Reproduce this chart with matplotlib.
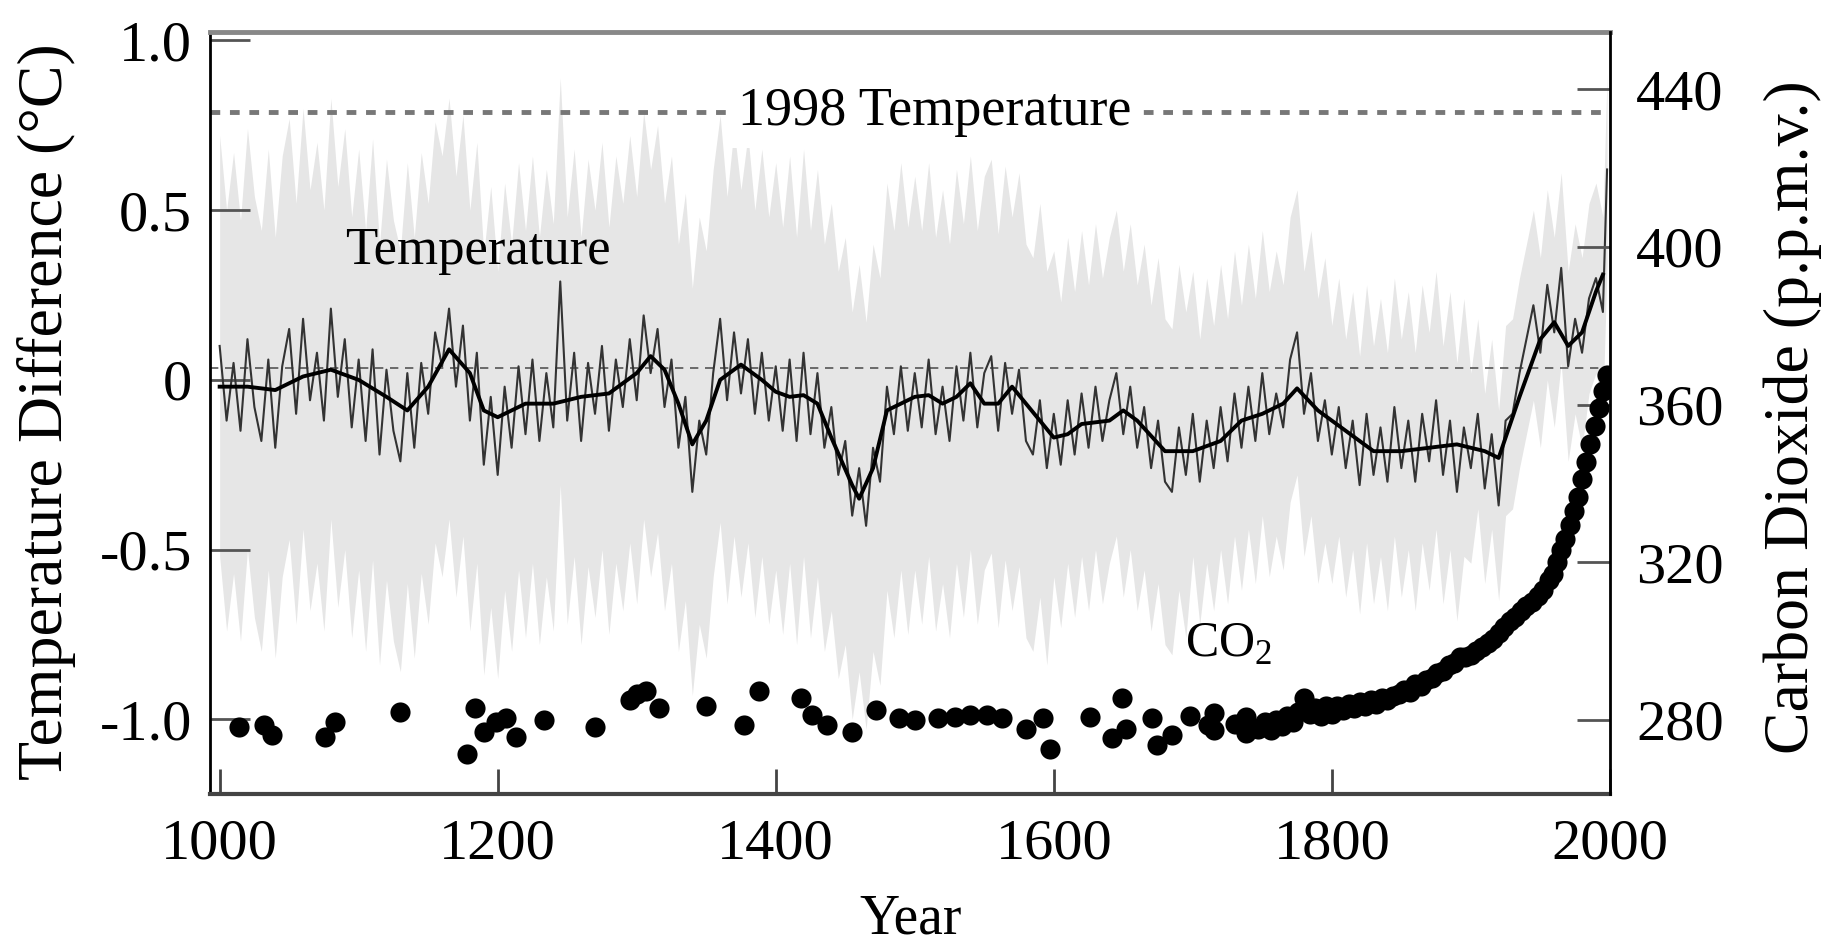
import numpy as np
import matplotlib.pyplot as plt

plt.rcParams['font.family'] = ['Liberation Serif', 'DejaVu Serif']
plt.rcParams['mathtext.fontset'] = 'custom'
plt.rcParams['mathtext.rm'] = 'Liberation Serif'

# annual reconstruction, read every 5 years (last point 1998)
temp_annual = [
    0.10, -0.12, 0.05, -0.15, 0.12, -0.08, -0.18, 0.06, -0.20, 0.04,
    0.15, -0.10, 0.18, -0.06, 0.08, -0.12, 0.21, -0.05, 0.12, -0.14,
    0.06, -0.18, 0.09, -0.22, 0.03, -0.15, -0.24, 0.02, -0.20, 0.05,
    -0.10, 0.14, 0.04, 0.21, -0.02, 0.16, -0.12, 0.08, -0.25, -0.05,
    -0.28, -0.02, -0.20, 0.04, -0.16, 0.06, -0.18, 0.02, -0.14, 0.29,
    -0.12, 0.08, -0.18, 0.05, -0.10, 0.10, -0.15, 0.06, -0.08, 0.12,
    -0.06, 0.19, 0.02, 0.15, -0.08, 0.06, -0.20, -0.05, -0.33, -0.12,
    -0.22, 0.02, 0.18, -0.06, 0.14, -0.04, 0.12, -0.10, 0.08, -0.12,
    0.04, -0.15, 0.06, -0.18, 0.08, -0.16, 0.02, -0.20, -0.08, -0.28,
    -0.18, -0.40, -0.26, -0.43, -0.20, -0.30, -0.02, -0.16, 0.04, -0.15,
    0.02, -0.14, 0.06, -0.16, -0.02, -0.18, 0.04, -0.12, 0.08, -0.14,
    0.02, 0.07, -0.15, 0.05, -0.10, 0.03, -0.18, -0.22, -0.06, -0.26,
    -0.10, -0.25, -0.06, -0.22, -0.04, -0.20, -0.02, -0.18, -0.06, 0.02,
    -0.16, -0.02, -0.20, -0.08, -0.26, -0.12, -0.30, -0.33, -0.14, -0.28,
    -0.10, -0.30, -0.12, -0.26, -0.08, -0.24, -0.04, -0.20, -0.02, -0.18,
    0.02, -0.16, -0.04, -0.14, 0.06, 0.14, -0.10, 0.02, -0.18, -0.06,
    -0.22, -0.08, -0.26, -0.12, -0.31, -0.10, -0.28, -0.14, -0.30, -0.08,
    -0.26, -0.12, -0.30, -0.10, -0.24, -0.06, -0.28, -0.12, -0.33, -0.14,
    -0.26, -0.10, -0.32, -0.16, -0.37, -0.12, -0.10, 0.02, 0.12, 0.22,
    0.08, 0.28, 0.14, 0.33, 0.04, 0.18, 0.08, 0.24, 0.30, 0.20,
    0.62,
]
annual_years = np.append(np.arange(1000, 2000, 5), 1998)

# smoothed curve
smooth_years = [1000, 1020, 1040, 1060, 1080, 1100, 1120, 1135, 1150, 1165,
                1180, 1190, 1200, 1220, 1240, 1260, 1280, 1300, 1310, 1320,
                1330, 1340, 1350, 1360, 1375, 1390, 1400, 1410, 1420, 1430,
                1440, 1455, 1460, 1470, 1480, 1490, 1500, 1510, 1520, 1530,
                1540, 1550, 1560, 1570, 1580, 1590, 1600, 1610, 1620, 1640,
                1650, 1660, 1680, 1700, 1720, 1735, 1750, 1765, 1775, 1790,
                1810, 1830, 1850, 1870, 1890, 1910, 1920, 1935, 1950, 1960,
                1970, 1980, 1990, 1995]
smooth_temp = [-0.02, -0.02, -0.03, 0.01, 0.03, 0.00, -0.05, -0.09, -0.02, 0.09,
               0.02, -0.09, -0.11, -0.07, -0.07, -0.05, -0.04, 0.02, 0.07, 0.03,
               -0.07, -0.19, -0.12, 0.00, 0.045, 0.00, -0.035, -0.05, -0.045, -0.07,
               -0.17, -0.31, -0.35, -0.26, -0.09, -0.07, -0.05, -0.045, -0.07, -0.05,
               -0.01, -0.07, -0.07, -0.02, -0.07, -0.12, -0.17, -0.16, -0.13, -0.12,
               -0.09, -0.12, -0.21, -0.21, -0.18, -0.12, -0.10, -0.07, -0.025, -0.09,
               -0.15, -0.21, -0.21, -0.20, -0.19, -0.21, -0.23, -0.05, 0.12, 0.17,
               0.10, 0.14, 0.26, 0.31]

# uncertainty half-width per period
band_start = [1000, 1100, 1200, 1300, 1400, 1500, 1600, 1700, 1800, 1900]
band_halfwidth = [0.62, 0.62, 0.60, 0.60, 0.60, 0.58, 0.48, 0.42, 0.38, 0.28]

# CO2 (ppmv)
co2_years = [1014, 1032, 1038, 1076, 1083, 1130, 1178, 1184, 1190, 1199,
             1206, 1213, 1233, 1270, 1295, 1300, 1307, 1316, 1350, 1377,
             1388, 1418, 1426, 1437, 1455, 1472, 1489, 1500, 1517, 1529,
             1540, 1552, 1563, 1580, 1592, 1597, 1626, 1642, 1649, 1652,
             1671, 1674, 1685, 1698, 1711, 1715, 1715, 1730, 1738, 1738,
             1747, 1752, 1756, 1760, 1764, 1768, 1772, 1776, 1780, 1784,
             1788, 1792, 1796, 1800, 1804, 1808, 1812, 1816, 1820, 1824,
             1828, 1832, 1836, 1840, 1844, 1848, 1852, 1856, 1860, 1864,
             1868, 1872, 1876, 1880, 1884, 1888, 1892, 1896, 1900, 1904,
             1908, 1912, 1916, 1920, 1924, 1928, 1932, 1936, 1940, 1944,
             1948, 1952, 1956, 1959, 1962, 1965, 1968, 1971, 1974, 1977,
             1980, 1983, 1986, 1989, 1992, 1995, 1998]
co2_ppm = [278.2, 278.7, 276.2, 275.7, 279.5, 282.0, 271.4, 283.0, 277.0, 279.5,
           280.5, 275.7, 280.0, 278.2, 285.1, 286.5, 287.2, 282.9, 283.4, 278.7,
           287.2, 285.6, 281.3, 278.7, 277.0, 282.5, 280.4, 280.0, 280.4, 280.8,
           281.3, 281.3, 280.4, 277.8, 280.4, 272.7, 280.8, 275.3, 285.6, 277.8,
           280.4, 273.7, 276.2, 281.0, 278.7, 281.8, 277.5, 279.0, 280.8, 276.7,
           277.8, 279.5, 277.5, 280.0, 278.5, 281.0, 279.5, 282.0, 285.5, 281.5,
           283.0, 281.0, 283.5, 281.5, 283.5, 282.5, 284.0, 283.0, 284.5, 283.5,
           285.0, 284.0, 285.5, 285.0, 286.0, 286.5, 287.5, 287.0, 289.0, 288.5,
           290.0, 290.5, 292.0, 292.5, 294.0, 294.5, 296.0, 296.0, 296.5, 297.5,
           298.5, 299.5, 300.5, 302.0, 303.5, 305.0, 306.0, 307.5, 309.0, 310.0,
           311.5, 313.0, 315.5, 317.0, 320.0, 323.0, 326.0, 329.5, 333.0, 336.5,
           341.0, 345.5, 350.0, 354.5, 359.0, 363.5, 367.5]

temp = np.array(temp_annual)
hw = np.array(band_halfwidth)[np.searchsorted(band_start, annual_years, side='right') - 1]

fig = plt.figure(figsize=(18.43, 9.52), dpi=100)
ax = fig.add_axes([0.1139, 0.166, 0.7596, 0.8004])
ax2 = ax.twinx()

ax.fill_between(annual_years, temp - hw, temp + hw, color='#e6e6e6', lw=0, zorder=1)
ax.axhline(0.035, color='#555555', lw=1.2, ls=(0, (5, 4)), zorder=2)
ax.plot(annual_years, temp, color='#333333', lw=1.5, zorder=3)
ax.plot(smooth_years, smooth_temp, color='black', lw=2.8, zorder=4)

ax.axhline(0.79, color='#777777', lw=3.5, ls=(0, (2, 2)), zorder=2)
ax.text(1514, 0.79, '1998 Temperature', fontsize=39, ha='center', va='center',
        bbox=dict(facecolor='white', edgecolor='none', pad=8), zorder=5)
ax.text(1186, 0.38, 'Temperature', fontsize=38, ha='center', va='center', zorder=5)

ax2.plot(co2_years, co2_ppm, 'o', color='black', ms=14.5, mew=0)
ax2.text(1726, 299, r'CO$_{\mathrm{2}}$', fontsize=36, ha='center', va='center')

ax.set_xlim(993, 2000)
ax.set_ylim(-1.22, 1.025)
ax2.set_ylim(261.2, 454.5)

ax.set_xticks([1000, 1200, 1400, 1600, 1800, 2000])
ax.set_yticks([1.0, 0.5, 0, -0.5, -1.0])
ax.set_yticklabels(['1.0', '0.5', '0', '-0.5', '-1.0'])
ax2.set_yticks([280, 320, 360, 400, 440])

ax.tick_params(axis='x', direction='in', length=18, width=2, pad=18,
               labelsize=42, color='#444444')
ax.tick_params(axis='y', direction='in', length=29, width=2, pad=13,
               labelsize=42, color='#555555')
ax2.tick_params(axis='y', direction='in', length=24, width=2, pad=19,
                labelsize=42, color='#555555')

for sp in ['top', 'bottom', 'left']:
    ax2.spines[sp].set_visible(False)
ax.spines['right'].set_visible(False)
ax.spines['top'].set_linewidth(3.5)
ax.spines['top'].set_color('#888888')
ax.spines['bottom'].set_linewidth(3)
ax.spines['bottom'].set_color('#444444')
ax.spines['left'].set_linewidth(2)
ax2.spines['right'].set_linewidth(2)

fig.text(0.0255, 0.568, 'Temperature Difference (°C)', fontsize=46,
         rotation=90, ha='center', va='center')
fig.text(0.973, 0.562, 'Carbon Dioxide (p.p.m.v.)', fontsize=46,
         rotation=90, ha='center', va='center')
fig.text(0.494, 0.034, 'Year', fontsize=40, ha='center', va='center')

fig.savefig('out.png', dpi=100, facecolor='white')
